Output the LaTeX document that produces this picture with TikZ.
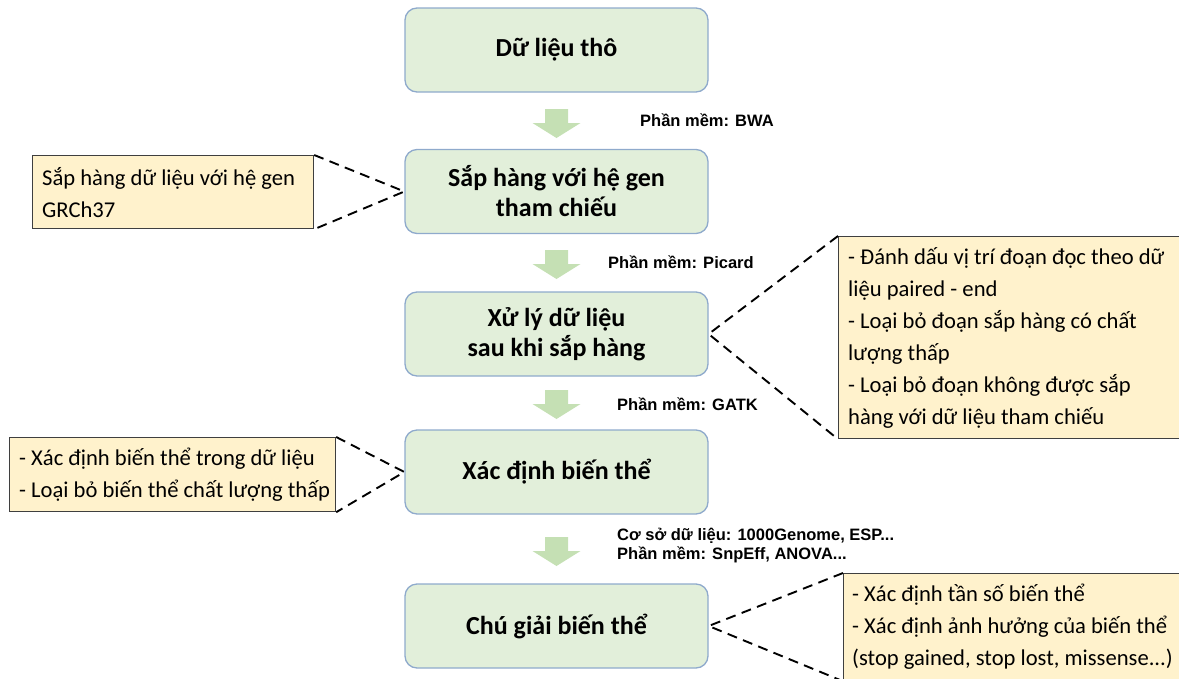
\documentclass[tikz,border=0pt]{standalone}
\usepackage{fontspec}
\setmainfont{Carlito}
\newfontfamily\labfont{Liberation Sans}
\usetikzlibrary{positioning}

\definecolor{stepfill}{HTML}{E2EFDA}
\definecolor{stepline}{HTML}{8FAACC}
\definecolor{notefill}{HTML}{FFF2CC}
\definecolor{noteline}{HTML}{3F3F3F}
\definecolor{flowgreen}{HTML}{C5E0B4}

\tikzset{
  stepbox/.style={draw=stepline, line width=1.3pt, fill=stepfill, rounded corners=12pt,
    minimum width=303pt, minimum height=84pt, align=center, inner sep=4pt,
    font=\fontsize{26}{30}\selectfont\bfseries},
  notebox/.style={draw=noteline, line width=1.2pt, fill=notefill, anchor=north west,
    inner sep=0pt},
  notetext/.style={anchor=west, align=left, inner sep=0pt,
    font=\fontsize{22.6}{32}\selectfont},
  tool/.style={anchor=west, align=left, inner sep=0pt,
    font=\labfont\fontsize{16.5}{18.5}\selectfont\bfseries},
  link/.style={draw=black, line width=1.9pt, dash pattern=on 10pt off 6.5pt},
  downarrow/.pic={
    \fill[flowgreen] (-11.5,0) -- (11.5,0) -- (11.5,14) -- (24,14) -- (0,29)
      -- (-24,14) -- (-11.5,14) -- cycle;
  }
}

\begin{document}
\begin{tikzpicture}[x=1pt, y=-1pt]
\useasboundingbox (0,0) rectangle (1179,678);

% main pipeline steps
\node[stepbox] (s1) at (556.5,50)    {Dữ liệu thô};
\node[stepbox] (s2) at (556.5,191.5) {Sắp hàng với hệ gen\\tham chiếu};
\node[stepbox] (s3) at (556.5,334)   {Xử lý dữ liệu\\sau khi sắp hàng};
\node[stepbox] (s4) at (556.5,472)   {Xác định biến thể};
\node[stepbox] (s5) at (556.5,626)   {Chú giải biến thể};

% block arrows between steps
\pic at (556.5,109) {downarrow};
\pic at (556.5,250) {downarrow};
\pic at (556.5,390) {downarrow};
\pic at (556.5,537) {downarrow};

% tools used at each stage
\node[tool] (t1) at (640,120) {Phần mềm: BWA};
\node[tool] (t2) at (608,262) {Phần mềm: Picard};
\node[tool] (t3) at (617,404) {Phần mềm: GATK};
\node[tool] (t4) at (617,545.5) {Cơ sở dữ liệu: 1000Genome, ESP...\\Phần mềm: SnpEff, ANOVA...};

% side notes: boxes
\node[notebox, minimum width=281pt, minimum height=73pt] (nA) at (32,155) {};
\node[notebox, minimum width=341pt, minimum height=202pt] (nB) at (838,236) {};
\node[notebox, minimum width=326pt, minimum height=74pt] (nC) at (9,437) {};
\node[notebox, minimum width=336pt, minimum height=107pt] (nD) at (843,573) {};

% side notes: texts
\node[notetext] (xA) at ([xshift=10pt]nA.west) {Sắp hàng dữ liệu với hệ gen\\GRCh37};
\node[notetext] (xB) at ([xshift=10pt]nB.west)
  {- Đánh dấu vị trí đoạn đọc theo dữ\\liệu paired - end\\- Loại bỏ đoạn sắp hàng có chất\\lượng thấp\\- Loại bỏ đoạn không được sắp\\hàng với dữ liệu tham chiếu};
\node[notetext] (xC) at ([xshift=10pt]nC.west)
  {- Xác định biến thể trong dữ liệu\\- Loại bỏ biến thể chất lượng thấp};
\node[notetext] (xD) at ([xshift=9pt]nD.west)
  {- Xác định tần số biến thể\\- Xác định ảnh hưởng của biến thể\\(stop gained, stop lost, missense...)};

% dashed callouts from notes to steps
\draw[link] (nA.north east) -- (s2.west) -- (nA.south east);
\draw[link] (nB.north west) -- (s3.east) -- (nB.south west);
\draw[link] (nC.north east) -- (s4.west) -- (nC.south east);
\draw[link] (nD.north west) -- (s5.east) -- (nD.south west);
\end{tikzpicture}
\end{document}
